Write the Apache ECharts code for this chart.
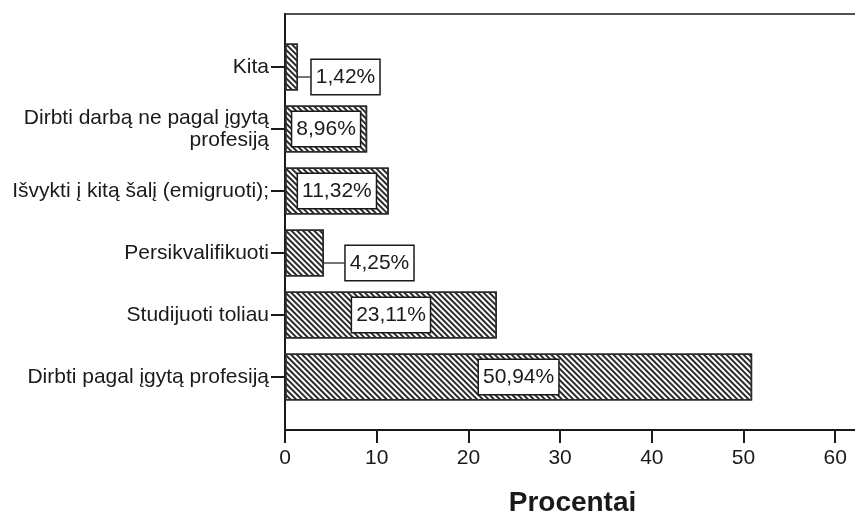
<!DOCTYPE html>
<html>
<head>
<meta charset="utf-8">
<script src="https://cdn.jsdelivr.net/npm/echarts@6/dist/echarts.min.js"></script>
<style>
  html, body { margin: 0; padding: 0; background: #fff; }
  #chart { width: 855px; height: 516px; }
</style>
</head>
<body>
<div id="chart"></div>
<script>
// Answer categories (bottom to top) and their shares in percent
const categories = [
  'Dirbti pagal įgytą profesiją',
  'Studijuoti toliau',
  'Persikvalifikuoti',
  'Išvykti į kitą šalį (emigruoti);',
  'Dirbti darbą ne pagal įgytą\nprofesiją',
  'Kita'
];
const percents = [50.94, 23.11, 4.25, 11.32, 8.96, 1.42];
const xTicks = [0, 10, 20, 30, 40, 50, 60];
const axisTitle = 'Procentai';

const FONT = 'Liberation Sans, Arial, sans-serif';
const INK = '#1a1a1a';
const X_MAX = 62.7;

// Short bars carry their label outside, joined by a leader line
const outsideShift = { 2: { dx: 75, dy: 10 }, 5: { dx: 54, dy: 10 } };

const chart = echarts.init(document.getElementById('chart'), null, { renderer: 'canvas' });

const hatch = {
  symbol: 'rect',
  symbolSize: 1,
  dashArrayX: [1, 0],
  dashArrayY: [2, 2],
  rotation: Math.PI / 4,
  color: '#2b2b2b'
};

chart.setOption({
  animation: false,
  backgroundColor: '#fff',
  grid: [
    // outer frame with the value axis (right edge runs off the canvas)
    { left: 285, top: 14, right: -5, bottom: 86, outerBoundsMode: 'none', containLabel: false,
      show: true, borderColor: INK, borderWidth: 1.5, backgroundColor: 'transparent' },
    // band area holding the bars
    { left: 285, top: 36, right: -5, height: 372, outerBoundsMode: 'none', containLabel: false }
  ],
  xAxis: [
    {
      gridIndex: 0, type: 'value', min: 0, max: X_MAX, interval: 10,
      axisLine: { show: true, lineStyle: { color: INK, width: 2 } },
      axisTick: { show: true, length: 13, lineStyle: { color: INK, width: 2 } },
      splitLine: { show: false },
      axisLabel: {
        color: INK, fontFamily: FONT, fontSize: 21, margin: 18,
        showMaxLabel: false,
        formatter: v => (xTicks.indexOf(v) >= 0 ? String(v) : '')
      },
      name: axisTitle, nameLocation: 'middle', nameGap: 59,
      nameTextStyle: { color: INK, fontFamily: FONT, fontSize: 28, fontWeight: 'bold' }
    },
    {
      gridIndex: 1, type: 'value', min: 0, max: X_MAX, show: false
    }
  ],
  yAxis: [
    {
      gridIndex: 0, type: 'value', min: 0, max: 1,
      axisLine: { show: true, lineStyle: { color: INK, width: 2 } },
      axisTick: { show: false }, axisLabel: { show: false }, splitLine: { show: false }
    },
    {
      gridIndex: 1, type: 'category', data: categories,
      axisLine: { show: false },
      axisTick: { show: true, alignWithLabel: true, length: 14, lineStyle: { color: INK, width: 2 } },
      axisLabel: { color: INK, fontFamily: FONT, fontSize: 21, margin: 16, align: 'right', lineHeight: 22 }
    }
  ],
  series: [{
    type: 'bar',
    xAxisIndex: 1,
    yAxisIndex: 1,
    barWidth: 47,
    data: percents.map((v, i) => ({
      value: v,
      labelLine: { show: outsideShift[i] !== undefined, lineStyle: { color: INK, width: 1.2 } }
    })),
    itemStyle: {
      color: '#fff',
      borderColor: '#2b2b2b',
      borderWidth: 1.5,
      decal: hatch
    },
    label: {
      show: true,
      position: 'inside',
      formatter: p => p.value.toFixed(2).replace('.', ',') + '%',
      color: INK,
      fontFamily: FONT,
      fontSize: 21,
      backgroundColor: '#fff',
      borderColor: INK,
      borderWidth: 1.5,
      padding: [7, 4, 6, 4],
      offset: [0, 3]
    },
    labelLayout: p => outsideShift[p.dataIndex] || {}
  }]
});
</script>
</body>
</html>
